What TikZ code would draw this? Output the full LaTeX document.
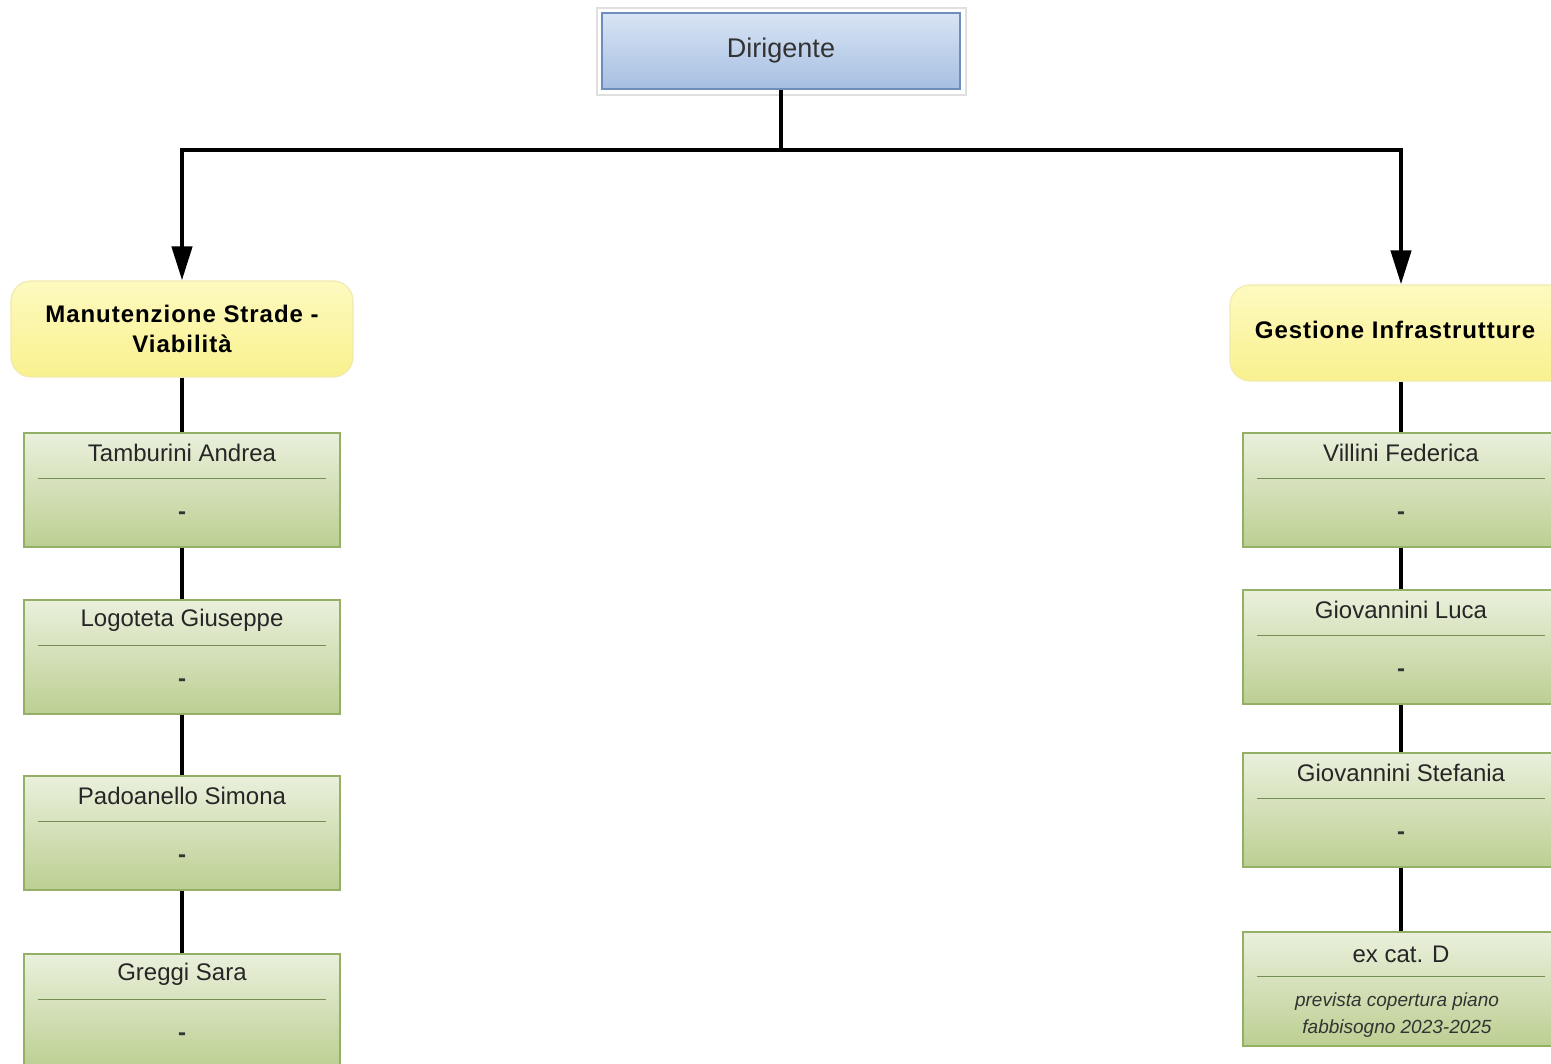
\documentclass[tikz,border=0pt]{standalone}
\usepackage{fontspec}
\setmainfont{Liberation Sans}
\usetikzlibrary{arrows.meta}
\definecolor{gtop}{HTML}{EAF0DC}
\definecolor{gbot}{HTML}{BCCF92}
\definecolor{gline}{HTML}{94B066}
\definecolor{ytop}{HTML}{FDFAC0}
\definecolor{ybot}{HTML}{F9F18E}
\definecolor{yline}{HTML}{F2EAB0}
\definecolor{btop}{HTML}{D8E4F4}
\definecolor{bbot}{HTML}{A6BFE2}
\definecolor{bline}{HTML}{6E8DBB}
\newfontfamily\boldspaced[LetterSpace=4]{Liberation Sans}
\tikzset{
  conn/.style={line width=2.2pt,black},
  arr/.style={conn,-{Triangle[length=17pt,width=10pt]}},
  gbox/.style={draw=gline,line width=0.6pt,top color=gtop,bottom color=gbot,minimum width=158pt,minimum height=57pt,inner sep=0pt},
  ybox/.style={draw=yline,line width=0.6pt,top color=ytop,bottom color=ybot,rounded corners=10pt,minimum width=171pt,minimum height=48pt,inner sep=0pt,align=center,font=\fontsize{12}{15}\boldspaced\bfseries},
  gname/.style={font=\fontsize{12}{14}\selectfont,text=black!85,inner sep=0pt},
  gsub/.style={font=\fontsize{12}{14}\selectfont\bfseries,text=black!80,inner sep=0pt},
  gital/.style={font=\fontsize{9.5}{13.5}\selectfont\itshape,text=black!80,inner sep=0pt,align=center},
  gsep/.style={draw=gline!80!black,line width=0.5pt},
}
\newcommand\gboxx[5]{%
  \node[gbox] (#1) at (#2,#3+57) {};
  \node[gname] (#1t) at (#2,#3+20) {#4};
  \draw[gsep] (#2-144,#3+45) -- (#2+144,#3+45);
  \node[gsub] (#1s) at (#2,#3+83) {#5};
}
\newcommand\gboxr[4]{%
  \node[gbox] (#1) at (#2,#3+57) {};
  \node[gname] (#1t) at (#2,#3+22) {#4};
  \draw[gsep] (#2-144,#3+44) -- (#2+144,#3+44);
}
\begin{document}
\begin{tikzpicture}[x=0.5pt,y=-0.5pt]
\useasboundingbox (0,0) rectangle (1551,1064);
\clip (0,0) rectangle (1551,1064);
\fill[white] (0,0) rectangle (1551,1064);
% Dirigente
\draw[gray!25,fill=white,line width=0.6pt] (597,8) rectangle (966,95);
\node[draw=bline,line width=0.8pt,top color=btop,bottom color=bbot,minimum width=179pt,minimum height=38pt,inner sep=0pt,font=\fontsize{13.5}{16}\selectfont,text=black!80] (dir) at (781,51) {Dirigente};
% area nodes
\node[ybox] (ms) at (182,329) {Manutenzione Strade -\\Viabilità};
\node[ybox] (gi) at (1401,333) {};
\node[font=\fontsize{12}{15}\boldspaced\bfseries,inner sep=0pt] (git) at (1395,330) {Gestione Infrastrutture};
% connectors from Dirigente
\coordinate (j) at (781,150);
\draw[conn] (dir.south) -- (j);
\draw[arr] (j) -| (ms.north);
\draw[arr] (j) -| (gi.north);
% left column
\gboxx{l1}{182}{433}{Tamburini Andrea}{-}
\gboxx{l2}{182}{600}{Logoteta Giuseppe}{-}
\gboxx{l3}{182}{776}{Padoanello Simona}{-}
\gboxx{l4}{182}{954}{Greggi Sara}{-}
\draw[conn] (ms.south) -- (l1.north);
\draw[conn] (l1.south) -- (l2.north);
\draw[conn] (l2.south) -- (l3.north);
\draw[conn] (l3.south) -- (l4.north);
% right column
\gboxx{r1}{1401}{433}{Villini Federica}{-}
\gboxx{r2}{1401}{590}{Giovannini Luca}{-}
\gboxx{r3}{1401}{753}{Giovannini Stefania}{-}
\gboxr{r4}{1401}{932}{ex cat. D}
\node[gital] (r4s) at (1397,1015) {prevista copertura piano\\fabbisogno 2023-2025};
\draw[conn] (gi.south) -- (r1.north);
\draw[conn] (r1.south) -- (r2.north);
\draw[conn] (r2.south) -- (r3.north);
\draw[conn] (r3.south) -- (r4.north);
\end{tikzpicture}
\end{document}
